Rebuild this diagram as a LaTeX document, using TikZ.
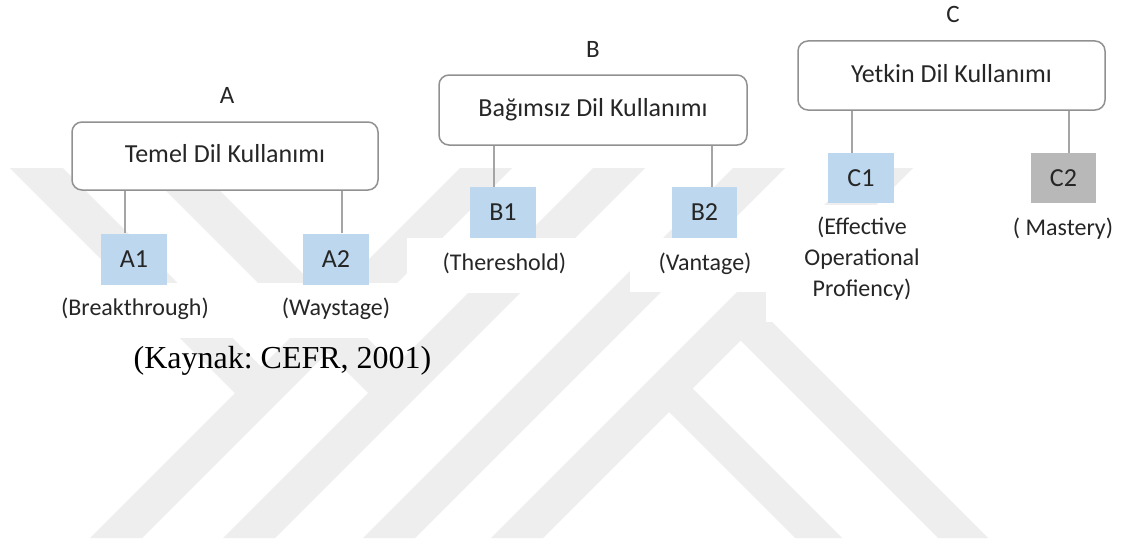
\documentclass[tikz,border=0pt]{standalone}
\usepackage{fontspec}
\setmainfont{Carlito}
\newfontfamily\kaynakfont{Liberation Serif}
\definecolor{boxborder}{RGB}{145,145,145}
\definecolor{connline}{RGB}{165,165,165}
\definecolor{lvlblue}{RGB}{189,215,238}
\definecolor{lvlgray}{RGB}{184,184,184}
\definecolor{wmark}{RGB}{238,238,238}
\definecolor{txt}{RGB}{38,38,38}
\frenchspacing
\begin{document}
\begin{tikzpicture}[x=1pt,y=-1pt,
  mainbox/.style={draw=boxborder, line width=1.5pt, fill=white, rounded corners=10pt,
    minimum width=307pt, minimum height=69pt, inner sep=0pt, text=txt,
    font=\fontsize{26}{30}\selectfont, text height=18pt, text depth=5pt},
  lvlbox/.style={fill=lvlblue, minimum width=66pt, minimum height=51pt, inner sep=0pt,
    text=txt, font=\fontsize{26}{30}\selectfont, text height=16pt, text depth=0pt},
  grpletter/.style={anchor=base, inner sep=0pt, text=txt, font=\fontsize{25}{30}\selectfont},
  lvllabel/.style={anchor=base, inner sep=0pt, text=txt, font=\fontsize{24}{31}\selectfont},
  conn/.style={draw=connline, line width=1.2pt}
]
\useasboundingbox (0,0) rectangle (1126,543);
\fill[white] (0,0) rectangle (1126,543);

% faint watermark
\fill[wmark] (90,538) -- (142,538) -- (512,168) -- (460,168) -- cycle;
\fill[wmark] (223,538) -- (275,538) -- (645,168) -- (593,168) -- cycle;
\fill[wmark] (363,538) -- (415,538) -- (785,168) -- (733,168) -- cycle;
\fill[wmark] (491,538) -- (543,538) -- (913,168) -- (861,168) -- cycle;
\fill[wmark] (10,168) -- (63,168) -- (287,392.5) -- (235,393) -- cycle;
\fill[wmark] (143,168) -- (197,168) -- (421,392) -- (368,393) -- cycle;
\fill[wmark] (739.5,289.5) -- (988,538) -- (938,538) -- (740.5,340.5) -- cycle;
\fill[wmark] (666.5,362.5) -- (842,538) -- (795,538) -- (669,412) -- cycle;

% white backgrounds of the label text boxes
\fill[white] (40,283) rectangle (228,338);
\fill[white] (228,283) rectangle (408,338);
\fill[white] (407,238) rectangle (598,293);
\fill[white] (630,238) rectangle (768,292);
\fill[white] (766,205) rectangle (958,322);

% group letters
\node[grpletter] (letA) at (227,103) {A};
\node[grpletter] (letB) at (593,57) {B};
\node[grpletter] (letC) at (953,23) {C};

% main boxes
\node[mainbox, minimum width=306pt, minimum height=68pt] (boxA) at (225,156) {Temel Dil Kullanımı};
\node[mainbox, minimum width=308pt, minimum height=70pt] (boxB) at (593,110) {Bağımsız Dil Kullanımı};
\node[mainbox, minimum width=307pt, minimum height=69pt] (boxC) at (951.5,75.5) {Yetkin Dil Kullanımı};

% level squares
\node[lvlbox] (A1) at (134,259) {A1};
\node[lvlbox] (A2) at (336,259) {A2};
\node[lvlbox] (B1) at (503,212.5) {B1};
\node[lvlbox, minimum width=65pt] (B2) at (704.5,212.5) {B2};
\node[lvlbox, minimum height=50pt] (C1) at (861,178) {C1};
\node[lvlbox, fill=lvlgray, minimum width=65pt, minimum height=50pt] (C2) at (1063.5,178) {C2};

% connectors
\draw[conn] ([xshift=-9pt]A1.north) -- ([xshift=-9pt]A1.north |- boxA.south);
\draw[conn] ([xshift=6pt]A2.north) -- ([xshift=6pt]A2.north |- boxA.south);
\draw[conn] ([xshift=-9pt]B1.north) -- ([xshift=-9pt]B1.north |- boxB.south);
\draw[conn] ([xshift=7.5pt]B2.north) -- ([xshift=7.5pt]B2.north |- boxB.south);
\draw[conn] ([xshift=-9pt]C1.north) -- ([xshift=-9pt]C1.north |- boxC.south);
\draw[conn] ([xshift=5.5pt]C2.north) -- ([xshift=5.5pt]C2.north |- boxC.south);

% level labels
\node[lvllabel] (labA1) at (135,315) {(Breakthrough)};
\node[lvllabel] (labA2) at (336,315) {(Waystage)};
\node[lvllabel] (labB1) at (504.5,270) {(Thereshold)};
\node[lvllabel] (labB2) at (705,270) {(Vantage)};
\node[lvllabel, anchor=north, align=center] (labC1) at (862,217) {(Effective\\Operational\\Profiency)};
\node[lvllabel] (labC2) at (1063,235) {( Mastery)};

% source
\node[anchor=base, inner sep=0pt, font=\kaynakfont\fontsize{32}{36}\selectfont] (src) at (282.5,368) {(Kaynak: CEFR, 2001)};
\end{tikzpicture}
\end{document}
